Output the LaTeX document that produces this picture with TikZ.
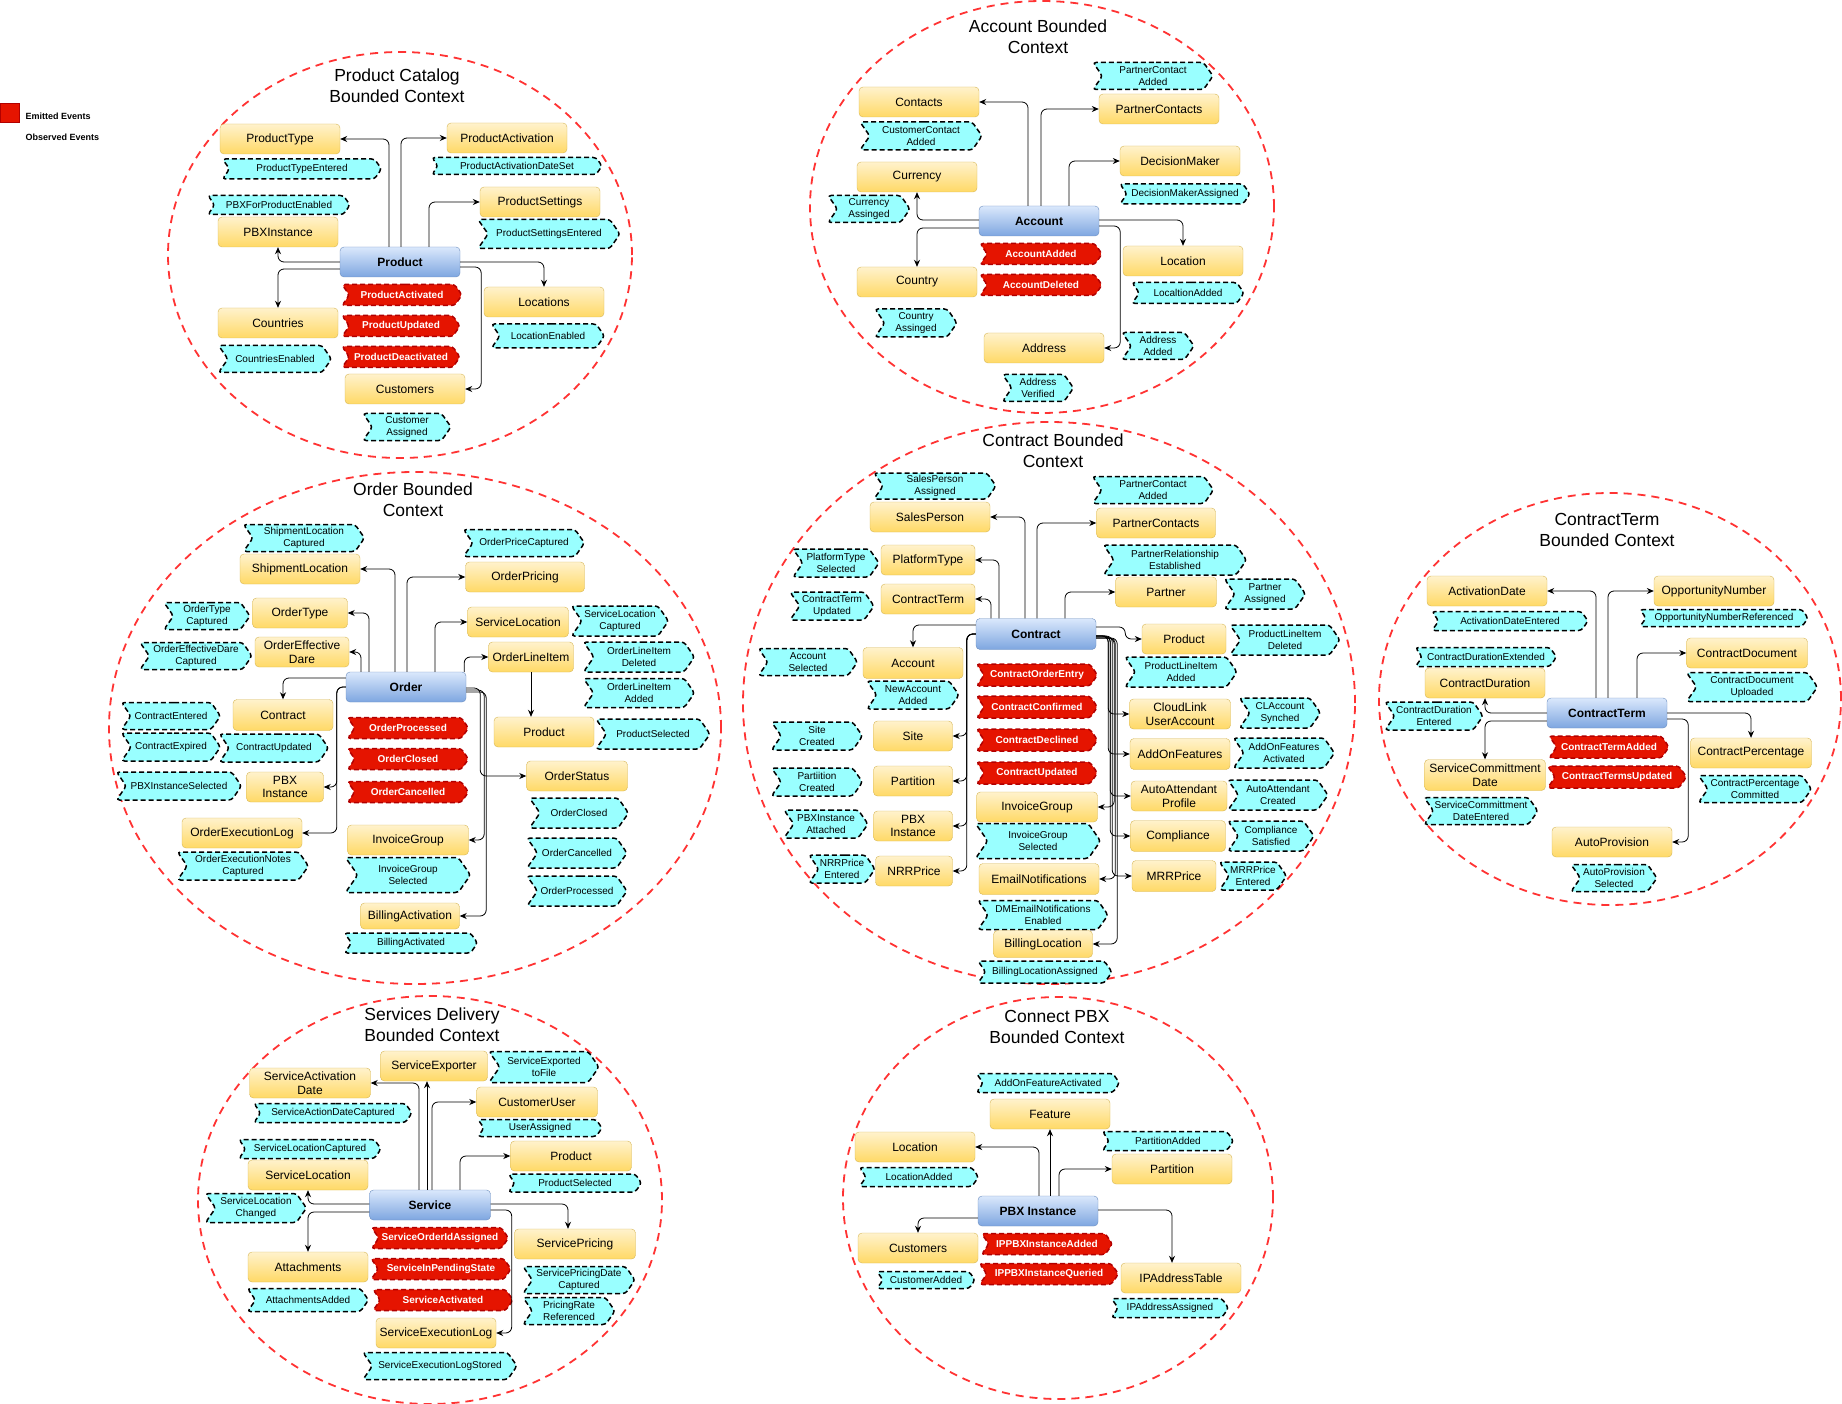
\documentclass[tikz,border=0pt]{standalone}
\usepackage{fontspec}
\setmainfont{Liberation Sans}
\usetikzlibrary{arrows.meta,shapes.symbols}
\definecolor{ctxred}{RGB}{255,51,51}
\definecolor{enttop}{RGB}{255,242,204}
\definecolor{entbot}{RGB}{255,217,102}
\definecolor{entline}{RGB}{214,182,86}
\definecolor{coretop}{RGB}{218,232,252}
\definecolor{corebot}{RGB}{126,166,224}
\definecolor{coreline}{RGB}{108,142,191}
\definecolor{obscyan}{RGB}{153,255,255}
\definecolor{emitred}{RGB}{229,20,0}
\definecolor{emitline}{RGB}{178,0,0}

\begin{document}
\begin{tikzpicture}
		[x=1pt,y=-1pt,
		ctx/.style={draw=ctxred,line width=1.8pt,dash pattern=on 8pt off 6pt},
		ttl/.style={align=center,font=\fontsize{17.5}{21}\selectfont},
		ent/.style={draw=entline,top color=enttop,bottom color=entbot,rounded corners=4pt,
			minimum width=120,minimum height=30,inner sep=1pt,align=center,
			font=\fontsize{12}{13.5}\selectfont},
		core/.style={ent,draw=coreline,top color=coretop,bottom color=corebot,
			font=\bfseries\fontsize{12}{13.5}\selectfont},
		obs/.style={signal,signal from=west,signal to=east,signal pointer angle=110,
			draw=black,fill=obscyan,line width=1.5pt,dash pattern=on 5pt off 3pt,
			rounded corners=3pt,minimum height=19,inner sep=1pt,align=center,
			font=\fontsize{10}{12}\selectfont},
		emit/.style={obs,draw=emitline,fill=emitred,text=white,minimum width=121,minimum height=21,
			font=\bfseries\fontsize{10}{12}\selectfont},
		conn/.style={-{Stealth[length=7pt,width=6pt]},line width=0.8pt,rounded corners=6pt}]
		\useasboundingbox (0,0) rectangle (1842,1404);

		\node[fill=emitred,draw=emitline,minimum size=19,inner sep=0] (lgred) at (10,113) {};
		\node[right,font=\bfseries\fontsize{9}{11}\selectfont] (lgemit) at (22,116) {Emitted Events};
		\node[right,font=\bfseries\fontsize{9}{11}\selectfont] (lgobs) at (22,137) {Observed Events};

		\draw[ctx] (400,255) ellipse [x radius=232pt,y radius=203pt];
		\node[ttl] (ptitle) at (397,86) {Product Catalog\\Bounded Context};
		\node[ent] (ptyp) at (280,139) {ProductType};
		\node[obs,minimum width=159,minimum height=20] (ptypev) at (302,169) {ProductTypeEntered};
		\node[obs,minimum width=142] (ppbxev) at (279,205) {PBXForProductEnabled};
		\node[ent] (ppbx) at (278,232) {PBXInstance};
		\node[core] (prod) at (400,262) {Product};
		\node[ent] (pact) at (507,138) {ProductActivation};
		\node[obs,minimum width=170,minimum height=17] (pactev) at (517,166) {ProductActivationDateSet};
		\node[ent] (pset) at (540,202) {ProductSettings};
		\node[obs,minimum width=142,minimum height=29] (psetev) at (549,234) {ProductSettingsEntered};
		\node[ent] (plocs) at (544,302) {Locations};
		\node[obs,minimum width=113,minimum height=24] (plocsev) at (548,336) {LocationEnabled};
		\node[ent] (pcty) at (278,323) {Countries};
		\node[obs,minimum width=113,minimum height=27] (pctyev) at (275,359) {CountriesEnabled};
		\node[emit,minimum width=120] (pem1) at (402,295) {ProductActivated};
		\node[emit,minimum width=118] (pem2) at (401,326) {ProductUpdated};
		\node[emit,minimum width=118] (pem3) at (401,357) {ProductDeactivated};
		\node[ent] (pcust) at (405,389) {Customers};
		\node[obs,minimum width=88,minimum height=27] (pcustev) at (407,427) {Customer\\Assigned};

		\draw[conn] ([xshift=-11]prod.north) |- (ptyp.east);
		\draw[conn] ([xshift=1]prod.north) |- (pact.west);
		\draw[conn] ([xshift=29]prod.north) |- (pset.west);
		\draw[conn] (prod.west) -| (ppbx.south);
		\draw[conn] ([yshift=-7]prod.west) -| (pcty.north);
		\draw[conn] (prod.east) -| (plocs.north);
		\draw[conn] ([yshift=-5]prod.east) -- ++(21,0) |- (pcust.east);

		\draw[ctx] (1042,207) ellipse [x radius=232pt,y radius=206pt];
		\node[ttl] (atitle) at (1038,37) {Account Bounded\\Context};
		\node[obs,minimum width=120,minimum height=27] (apcev) at (1153,76) {PartnerContact\\Added};
		\node[ent] (acon) at (919,102) {Contacts};
		\node[ent] (apc) at (1159,109) {PartnerContacts};
		\node[obs,minimum width=122,minimum height=28] (aconev) at (921,136) {CustomerContact\\Added};
		\node[ent] (acur) at (917,177) {Currency};
		\node[ent] (adm) at (1180,161) {DecisionMaker};
		\node[obs,minimum width=130,minimum height=20] (admev) at (1185,194) {DecisionMakerAssigned};
		\node[obs,minimum width=82,minimum height=27] (acurev) at (869,209) {Currency\\Assinged};
		\node[core] (acc) at (1039,221) {Account};
		\node[emit,minimum width=122] (aem1) at (1041,254) {AccountAdded};
		\node[emit,minimum width=122] (aem2) at (1041,285) {AccountDeleted};
		\node[ent] (aloc) at (1183,261) {Location};
		\node[obs,minimum width=112,minimum height=21] (alocev) at (1188,293) {LocaltionAdded};
		\node[ent] (actry) at (917,282) {Country};
		\node[obs,minimum width=82,minimum height=28] (actryev) at (916,323) {Country\\Assinged};
		\node[ent] (aadr) at (1044,348) {Address};
		\node[obs,minimum width=72,minimum height=27] (aadrev) at (1158,346) {Address\\Added};
		\node[obs,minimum width=71,minimum height=27] (aadrvf) at (1038,388) {Address\\Verified};

		\draw[conn] ([xshift=-11]acc.north) |- (acon.east);
		\draw[conn] ([xshift=2]acc.north) |- (apc.west);
		\draw[conn] ([xshift=30]acc.north) |- (adm.west);
		\draw[conn] ([yshift=1]acc.west) -| (acur.south);
		\draw[conn] ([yshift=-7]acc.west) -| (actry.north);
		\draw[conn] ([yshift=1]acc.east) -| (aloc.north);
		\draw[conn] ([yshift=-5]acc.east) -- ++(21,0) |- (aadr.east);

		\draw[ctx] (415,728) ellipse [x radius=306pt,y radius=256pt];
		\node[ttl] (otitle) at (413,500) {Order Bounded\\Context};
		\node[obs,minimum width=121,minimum height=27] (oshlev) at (304,538) {ShipmentLocation\\Captured};
		\node[ent] (oshl) at (300,569) {ShipmentLocation};
		\node[obs,minimum width=121,minimum height=27] (oprev) at (524,543) {OrderPriceCaptured};
		\node[ent,minimum width=119] (opr) at (525,577) {OrderPricing};
		\node[obs,minimum width=86,minimum height=27] (otypev) at (207,616) {OrderType\\Captured};
		\node[ent,minimum width=95] (otyp) at (300,613) {OrderType};
		\node[obs,minimum width=112,minimum height=27] (oeffev) at (196,656) {OrderEffectiveDare\\Captured};
		\node[ent,minimum width=94] (oeff) at (302,652) {OrderEffective\\Dare};
		\node[ent,minimum width=101] (osloc) at (518,622) {ServiceLocation};
		\node[obs,minimum width=97,minimum height=30] (oslocev) at (620,621) {ServiceLocation\\Captured};
		\node[ent,minimum width=85] (oli) at (531,657) {OrderLineItem};
		\node[obs,minimum width=111,minimum height=30] (olidel) at (639,657) {OrderLineItem\\Deleted};
		\node[obs,minimum width=111,minimum height=29] (oliadd) at (639,693) {OrderLineItem\\Added};
		\node[core] (ord) at (406,687) {Order};
		\node[ent,minimum width=100,minimum height=31] (octr) at (283,715) {Contract};
		\node[obs,minimum width=99,minimum height=27] (octrent) at (171,716) {ContractEntered};
		\node[obs,minimum width=99,minimum height=28] (octrexp) at (171,747) {ContractExpired};
		\node[obs,minimum width=109,minimum height=28] (octrupd) at (274,748) {ContractUpdated};
		\node[emit] (oem1) at (408,728) {OrderProcessed};
		\node[emit] (oem2) at (408,759) {OrderClosed};
		\node[emit] (oem3) at (408,792) {OrderCancelled};
		\node[ent,minimum width=100] (oprod) at (544,732) {Product};
		\node[obs,minimum width=114,minimum height=30] (oprodev) at (653,734) {ProductSelected};
		\node[ent,minimum width=101] (ostat) at (577,776) {OrderStatus};
		\node[obs,minimum width=125,minimum height=28] (opbxev) at (179,786) {PBXInstanceSelected};
		\node[ent,minimum width=77] (opbx) at (285,787) {PBX\\Instance};
		\node[obs,minimum width=99,minimum height=30] (oclosed) at (579,813) {OrderClosed};
		\node[obs,minimum width=100,minimum height=30] (ocanc) at (577,853) {OrderCancelled};
		\node[ent] (olog) at (242,833) {OrderExecutionLog};
		\node[ent,minimum width=121] (oinv) at (408,840) {InvoiceGroup};
		\node[obs,minimum width=131,minimum height=28] (ologev) at (243,866) {OrderExecutionNotes\\Captured};
		\node[obs,minimum width=125,minimum height=35] (oinvev) at (408,875) {InvoiceGroup\\Selected};
		\node[obs,minimum width=100,minimum height=30] (oproc) at (577,891) {OrderProcessed};
		\node[ent,minimum width=99,minimum height=26] (obill) at (410,916) {BillingActivation};
		\node[obs,minimum width=133,minimum height=20] (obillev) at (411,943) {BillingActivated};

		\draw[conn] ([xshift=-11]ord.north) |- (oshl.east);
		\draw[conn] ([xshift=1]ord.north) |- (opr.west);
		\draw[conn] ([xshift=-37]ord.north) |- (otyp.east);
		\draw[conn] ([xshift=-45]ord.north) |- (oeff.east);
		\draw[conn] ([xshift=29]ord.north) |- (osloc.west);
		\draw[conn] ([xshift=-2]ord.north east) |- (oli.west);
		\draw[conn] (oli.south) -- (oli.south |- oprod.north);
		\draw[conn] ([yshift=9]ord.west) -| (octr.north);
		\draw[conn] (ord.west) -- ++(-9,0) |- (opbx.east);
		\draw[conn] (ord.west) -- ++(-9,0) |- (olog.east);
		\draw[conn] ([yshift=-1]ord.east) -- ++(14,0) |- (ostat.west);
		\draw[conn] ([yshift=-3]ord.east) -- ++(18,0) |- (oinv.east);
		\draw[conn] ([yshift=-5]ord.east) -- ++(20,0) |- (obill.east);

		\draw[ctx] (1049,703) ellipse [x radius=306pt,y radius=281pt];
		\node[ttl] (ctitle) at (1053,451) {Contract Bounded\\Context};
		\node[obs,minimum width=122,minimum height=26] (cspev) at (935,486) {SalesPerson\\Assigned};
		\node[ent] (csp) at (930,517) {SalesPerson};
		\node[obs,minimum width=121,minimum height=27] (cpcev) at (1153,490) {PartnerContact\\Added};
		\node[ent,minimum width=119] (cpc) at (1156,523) {PartnerContacts};
		\node[obs,minimum width=86,minimum height=28] (cptev) at (836,563) {PlatformType\\Selected};
		\node[ent,minimum width=94] (cpt) at (928,560) {PlatformType};
		\node[obs,minimum width=143,minimum height=30] (cprev) at (1175,560) {PartnerRelationship\\Established};
		\node[obs,minimum width=84,minimum height=28] (ctermev) at (832,606) {ContractTerm\\Updated};
		\node[ent,minimum width=94] (cterm) at (928,599) {ContractTerm};
		\node[ent,minimum width=101] (cpart) at (1166,592) {Partner};
		\node[obs,minimum width=81,minimum height=30] (cpartev) at (1265,594) {Partner\\Assigned};
		\node[core,minimum height=31] (cct) at (1036,634) {Contract};
		\node[ent,minimum width=84] (cprod) at (1184,639) {Product};
		\node[obs,minimum width=110,minimum height=30] (cplidel) at (1285,640) {ProductLineItem\\Deleted};
		\node[ent,minimum width=100,minimum height=31] (cacc) at (913,663) {Account};
		\node[obs,minimum width=99,minimum height=27] (caccev) at (808,662) {Account\\Selected};
		\node[emit,minimum height=22] (cem1) at (1037,675) {ContractOrderEntry};
		\node[obs,minimum width=112,minimum height=30] (cpliadd) at (1181,672) {ProductLineItem\\Added};
		\node[obs,minimum width=92,minimum height=28] (cnewacc) at (913,695) {NewAccount\\Added};
		\node[emit,minimum height=22] (cem2) at (1037,707) {ContractConfirmed};
		\node[ent,minimum width=101] (ccl) at (1180,714) {CloudLink\\UserAccount};
		\node[obs,minimum width=81,minimum height=30] (cclev) at (1280,713) {CLAccount\\Synched};
		\node[obs,minimum width=91,minimum height=28] (csiteev) at (817,736) {Site\\Created};
		\node[ent,minimum width=79] (csite) at (913,736) {Site};
		\node[emit,minimum height=22] (cem3) at (1037,740) {ContractDeclined};
		\node[ent,minimum width=100,minimum height=31] (caof) at (1180,754) {AddOnFeatures};
		\node[obs,minimum width=101,minimum height=30] (caofev) at (1284,753) {AddOnFeatures\\Activated};
		\node[obs,minimum width=91,minimum height=28] (cpartnev) at (817,782) {Partiition\\Created};
		\node[ent,minimum width=79] (cpartn) at (913,781) {Partition};
		\node[emit,minimum height=22] (cem4) at (1037,773) {ContractUpdated};
		\node[ent,minimum width=121] (cinv) at (1037,807) {InvoiceGroup};
		\node[ent,minimum width=96] (caa) at (1179,796) {AutoAttendant\\Profile};
		\node[obs,minimum width=100,minimum height=30] (caaev) at (1278,795) {AutoAttendant\\Created};
		\node[obs,minimum width=84,minimum height=28] (cpbxev) at (826,824) {PBXInstance\\Attached};
		\node[ent,minimum width=79] (cpbx) at (913,826) {PBX\\Instance};
		\node[obs,minimum width=125,minimum height=35] (cinvev) at (1038,841) {InvoiceGroup\\Selected};
		\node[ent,minimum width=95,minimum height=31] (ccomp) at (1178,836) {Compliance};
		\node[obs,minimum width=86,minimum height=30] (ccompev) at (1271,836) {Compliance\\Satisfied};
		\node[obs,minimum width=63,minimum height=28] (cnrrev) at (842,869) {NRRPrice\\Entered};
		\node[ent,minimum width=77] (cnrr) at (914,871) {NRRPrice};
		\node[ent,minimum height=31] (cmail) at (1039,879) {EmailNotifications};
		\node[ent,minimum width=84,minimum height=31] (cmrr) at (1174,876) {MRRPrice};
		\node[obs,minimum width=64,minimum height=28] (cmrrev) at (1253,876) {MRRPrice\\Entered};
		\node[obs,minimum width=130,minimum height=29] (cmailev) at (1043,915) {DMEmailNotifications\\Enabled};
		\node[ent,minimum width=99,minimum height=27] (cbill) at (1043,944) {BillingLocation};
		\node[obs,minimum width=134,minimum height=22] (cbillev) at (1045,972) {BillingLocationAssigned};

		\draw[conn] ([xshift=-11]cct.north) |- (csp.east);
		\draw[conn] ([xshift=1]cct.north) |- (cpc.west);
		\draw[conn] ([xshift=-37]cct.north) |- (cpt.east);
		\draw[conn] ([xshift=-45]cct.north) |- (cterm.east);
		\draw[conn] ([xshift=29]cct.north) |- (cpart.west);
		\draw[conn] ([yshift=9]cct.west) -| (cacc.north);
		\draw[conn] (cct.west) -- ++(-9,0) |- (csite.east);
		\draw[conn] (cct.west) -- ++(-9,0) |- (cpartn.east);
		\draw[conn] (cct.west) -- ++(-9,0) |- (cpbx.east);
		\draw[conn] (cct.west) -- ++(-9,0) |- (cnrr.east);
		\draw[conn] ([yshift=7]cct.east) -- ++(29,0) |- (cprod.west);
		\draw[conn] ([yshift=-2]cct.east) -- ++(12,0) |- (ccl.west);
		\draw[conn] ([yshift=-2]cct.east) -- ++(12,0) |- (caof.west);
		\draw[conn] ([yshift=-2]cct.east) -- ++(14,0) |- (caa.west);
		\draw[conn] ([yshift=-2]cct.east) -- ++(14,0) |- (ccomp.west);
		\draw[conn] ([yshift=-2]cct.east) -- ++(16,0) |- (cmrr.west);
		\draw[conn] ([yshift=-4]cct.east) -- ++(18,0) |- (cinv.east);
		\draw[conn] ([yshift=-4]cct.east) -- ++(19,0) |- (cmail.east);
		\draw[conn] ([yshift=-4]cct.east) -- ++(21,0) |- (cbill.east);

		\draw[ctx] (1610,699) ellipse [x radius=231pt,y radius=206pt];
		\node[ttl] (ttitle) at (1607,530) {ContractTerm\\Bounded Context};
		\node[ent] (tad) at (1487,591) {ActivationDate};
		\node[ent] (ton) at (1714,591) {OpportunityNumber};
		\node[obs,minimum width=156] (tadev) at (1510,621) {ActivationDateEntered};
		\node[obs,minimum width=168,minimum height=17] (tonev) at (1724,618) {OpportunityNumberReferenced};
		\node[obs,minimum width=141] (tdurext) at (1486,657) {ContractDurationExtended};
		\node[ent,minimum width=121] (tdoc) at (1747,653) {ContractDocument};
		\node[ent] (tdur) at (1485,683) {ContractDuration};
		\node[obs,minimum width=131,minimum height=29] (tdocev) at (1752,687) {ContractDocument\\Uploaded};
		\node[obs,minimum width=98,minimum height=28] (tdurev) at (1434,716) {ContractDuration\\Entered};
		\node[core] (tct) at (1607,713) {ContractTerm};
		\node[emit,minimum width=120,minimum height=22] (tem1) at (1609,747) {ContractTermAdded};
		\node[emit,minimum width=139,minimum height=22] (tem2) at (1617,777) {ContractTermsUpdated};
		\node[ent,minimum width=121] (tpct) at (1751,753) {ContractPercentage};
		\node[obs,minimum width=113,minimum height=27] (tpctev) at (1755,789) {ContractPercentage\\Committed};
		\node[ent,minimum width=121,minimum height=31] (tscd) at (1485,775) {ServiceCommittment\\Date};
		\node[obs,minimum width=113,minimum height=27] (tscdev) at (1481,811) {ServiceCommittment\\DateEntered};
		\node[ent] (tauto) at (1612,842) {AutoProvision};
		\node[obs,minimum width=86,minimum height=27] (tautoev) at (1614,878) {AutoProvision\\Selected};

		\draw[conn] ([xshift=-11]tct.north) |- (tad.east);
		\draw[conn] ([xshift=1]tct.north) |- (ton.west);
		\draw[conn] ([xshift=30]tct.north) |- (tdoc.west);
		\draw[conn] (tct.west) -| (tdur.south);
		\draw[conn] ([yshift=-8]tct.west) -| (tscd.north);
		\draw[conn] (tct.east) -| (tpct.north);
		\draw[conn] ([yshift=-6]tct.east) -- ++(21,0) |- (tauto.east);

		\draw[ctx] (430,1200) ellipse [x radius=232pt,y radius=204pt];
		\node[ttl] (stitle) at (432,1025) {Services Delivery\\Bounded Context};
		\node[ent,minimum width=107] (sexp) at (434,1066) {ServiceExporter};
		\node[obs,minimum width=110,minimum height=31] (sexpev) at (544,1067) {ServiceExported\\toFile};
		\node[ent,minimum width=121] (sad) at (310,1083) {ServiceActivation\\Date};
		\node[ent,minimum width=121] (scu) at (537,1102) {CustomerUser};
		\node[obs,minimum width=158] (sadev) at (333,1113) {ServiceActionDateCaptured};
		\node[obs,minimum width=124,minimum height=17] (scuev) at (540,1128) {UserAssigned};
		\node[obs,minimum width=142] (slocev) at (310,1149) {ServiceLocationCaptured};
		\node[ent,minimum width=121] (sprod) at (571,1156) {Product};
		\node[ent] (sloc) at (308,1175) {ServiceLocation};
		\node[obs,minimum width=133,minimum height=18] (sprodev) at (575,1183) {ProductSelected};
		\node[core,minimum width=121] (svc) at (430,1205) {Service};
		\node[obs,minimum width=101,minimum height=29] (slocch) at (256,1208) {ServiceLocation\\Changed};
		\node[emit,minimum width=137] (sem1) at (440,1238) {ServiceOrderIdAssigned};
		\node[ent,minimum width=121] (spri) at (575,1244) {ServicePricing};
		\node[emit,minimum width=140] (sem2) at (441,1269) {ServiceInPendingState};
		\node[ent] (satt) at (308,1267) {Attachments};
		\node[obs,minimum width=112,minimum height=27] (spriev) at (579,1280) {ServicePricingDate\\Captured};
		\node[obs,minimum width=121,minimum height=23] (sattev) at (308,1300) {AttachmentsAdded};
		\node[emit,minimum width=140] (sem3) at (443,1300) {ServiceActivated};
		\node[obs,minimum width=92,minimum height=27] (srate) at (569,1311) {PricingRate\\Referenced};
		\node[ent] (slog) at (436,1333) {ServiceExecutionLog};
		\node[obs,minimum width=154,minimum height=27] (slogev) at (440,1366) {ServiceExecutionLogStored};

		\draw[conn] ([xshift=-11]svc.north) |- (sad.east);
		\draw[conn] ([xshift=-3]svc.north) -- ([xshift=-3]svc.north |- sexp.south);
		\draw[conn] ([xshift=2]svc.north) |- (scu.west);
		\draw[conn] ([xshift=30]svc.north) |- (sprod.west);
		\draw[conn] ([yshift=1]svc.west) -| (sloc.south);
		\draw[conn] ([yshift=-7]svc.west) -| (satt.north);
		\draw[conn] ([yshift=1]svc.east) -| ([xshift=-7]spri.north);
		\draw[conn] ([yshift=-5]svc.east) -- ++(21,0) |- (slog.east);

		\draw[ctx] (1058,1198) ellipse [x radius=215pt,y radius=201pt];
		\node[ttl] (xtitle) at (1057,1027) {Connect PBX\\Bounded Context};
		\node[obs,minimum width=143] (xfeatev) at (1048,1083) {AddOnFeatureActivated};
		\node[ent] (xfeat) at (1050,1114) {Feature};
		\node[ent] (xloc) at (915,1147) {Location};
		\node[obs,minimum width=131] (xpartev) at (1168,1141) {PartitionAdded};
		\node[obs,minimum width=119] (xlocev) at (919,1177) {LocationAdded};
		\node[ent] (xpart) at (1172,1169) {Partition};
		\node[core] (xpbx) at (1038,1211) {PBX Instance};
		\node[ent] (xcus) at (918,1248) {Customers};
		\node[emit,minimum width=131] (xem1) at (1047,1244) {IPPBXInstanceAdded};
		\node[emit,minimum width=139] (xem2) at (1049,1274) {IPPBXInstanceQueried};
		\node[ent] (xip) at (1181,1278) {IPAddressTable};
		\node[obs,minimum width=98,minimum height=17] (xcusev) at (926,1280) {CustomerAdded};
		\node[obs,minimum width=117] (xipev) at (1170,1308) {IPAddressAssigned};

		\draw[conn] ([xshift=1]xpbx.north) |- (xloc.east);
		\draw[conn] (xpbx.north -| xfeat.south) -- (xfeat.south);
		\draw[conn] ([xshift=21]xpbx.north) |- (xpart.west);
		\draw[conn] ([yshift=-7]xpbx.west) -| (xcus.north);
		\draw[conn] ([yshift=1]xpbx.east) -| ([xshift=-9]xip.north);

	\end{tikzpicture}
\end{document}
